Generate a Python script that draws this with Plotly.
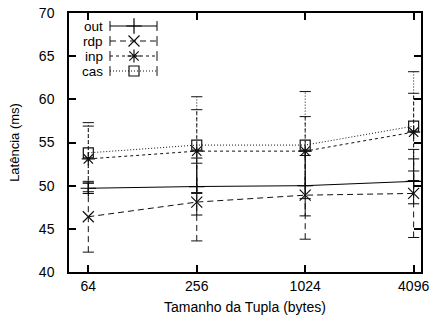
import plotly.graph_objects as go
import math

sizes = [64, 256, 1024, 4096]
size_labels = ["64", "256", "1024", "4096"]

series_names = ["out", "rdp", "inp", "cas"]
out_mean = [49.7, 49.9, 50.0, 50.5]
out_err = [0.6, 3.3, 3.5, 2.6]
rdp_mean = [46.4, 48.1, 48.9, 49.1]
rdp_err = [4.1, 4.5, 5.1, 5.1]
inp_mean = [53.1, 54.0, 54.0, 56.2]
inp_err = [3.8, 4.8, 4.0, 4.5]
cas_mean = [53.8, 54.7, 54.7, 56.9]
cas_err = [3.5, 5.6, 6.2, 6.3]

means = [out_mean, rdp_mean, inp_mean, cas_mean]
errs = [out_err, rdp_err, inp_err, cas_err]

dashes = ["solid", "6px,4px", "3px,3px", "1px,2px"]
symbols = ["cross-thin", "x-thin", "asterisk", "square"]
msizes = [11, 11, 11, 10]
colors = ["#000000", "#111111", "#111111", "#111111"]

FONT = "Liberation Sans, Arial, Helvetica, sans-serif"

fig = go.Figure()

for name, m, e, d, s, ms, c in zip(series_names, means, errs, dashes, symbols, msizes, colors):
    ex, ey = [], []
    for xv, mv, ev in zip(sizes, m, e):
        ex += [xv, xv, None]
        ey += [mv - ev, mv + ev, None]
    fig.add_trace(go.Scatter(x=ex, y=ey, mode="lines", line=dict(color=c, width=1, dash=d),
                             showlegend=False, hoverinfo="skip"))
    cx, cy = [], []
    for xv, mv, ev in zip(sizes, m, e):
        cx += [xv, xv]
        cy += [mv - ev, mv + ev]
    fig.add_trace(go.Scatter(x=cx, y=cy, mode="markers",
                             marker=dict(symbol="line-ew", size=8, line=dict(color=c, width=1)),
                             showlegend=False, hoverinfo="skip"))
    fig.add_trace(go.Scatter(x=sizes, y=m, mode="lines+markers", name=name,
                             line=dict(color=c, width=1, dash=d),
                             marker=dict(symbol=s, size=ms, color="rgba(0,0,0,0)",
                                         line=dict(color=c, width=1.2)),
                             showlegend=False))

# gnuplot-style legend (text left, sample right) in pixel coordinates of the plot area
rows_y = [26, 41, 56, 71]
for name, ry, d, s, ms, c in zip(series_names, rows_y, dashes, symbols, msizes, colors):
    fig.add_trace(go.Scatter(x=[110, 157], y=[ry, ry], mode="lines", xaxis="x2", yaxis="y2",
                             line=dict(color=c, width=1, dash=d), showlegend=False, hoverinfo="skip"))
    fig.add_trace(go.Scatter(x=[110, 157], y=[ry, ry], mode="markers", xaxis="x2", yaxis="y2",
                             marker=dict(symbol="line-ns", size=7, line=dict(color=c, width=1)),
                             showlegend=False, hoverinfo="skip"))
    fig.add_trace(go.Scatter(x=[134], y=[ry], mode="markers", xaxis="x2", yaxis="y2",
                             marker=dict(symbol=s, size=ms, color="rgba(0,0,0,0)",
                                         line=dict(color=c, width=1.2)),
                             showlegend=False, hoverinfo="skip"))
    fig.add_annotation(x=104, y=ry, xref="x2", yref="y2", text=name, showarrow=False,
                       xanchor="right", yanchor="middle", borderpad=0,
                       font=dict(family=FONT, size=13.5, color="black"))

fig.update_layout(
    width=430, height=320,
    margin=dict(l=69, r=9, t=13, b=48, autoexpand=False),
    paper_bgcolor="white", plot_bgcolor="white",
    showlegend=False,
    font=dict(family=FONT, size=14, color="black"),
    xaxis=dict(type="log", range=[math.log10(50), math.log10(4500)],
               tickvals=sizes, ticktext=size_labels, automargin=False,
               ticks="inside", ticklen=7, tickwidth=1.5, tickcolor="black",
               showline=True, linecolor="black", linewidth=1.5, mirror="ticks",
               showgrid=False, zeroline=False,
               tickfont=dict(size=14), ticklabelstandoff=0,
               title=dict(text="Tamanho da Tupla (bytes)", font=dict(size=14), standoff=10)),
    yaxis=dict(range=[40, 70], tickvals=[40, 45, 50, 55, 60, 65, 70], automargin=False,
               ticks="inside", ticklen=7, tickwidth=1.5, tickcolor="black",
               showline=True, linecolor="black", linewidth=1.5, mirror="ticks",
               showgrid=False, zeroline=False,
               tickfont=dict(size=14), ticklabelstandoff=10,
               title=dict(text="Latência (ms)", font=dict(size=13), standoff=16)),
    xaxis2=dict(range=[69, 421], overlaying="x", visible=False, fixedrange=True, automargin=False),
    yaxis2=dict(range=[272, 13], overlaying="y", visible=False, fixedrange=True, automargin=False),
)

# remove the default 8px page margin so the figure sits at the window's top-left corner
fig.write_html("out.html", config={"displayModeBar": False},
               post_script="document.body.style.margin='0';document.body.style.overflow='hidden';")
